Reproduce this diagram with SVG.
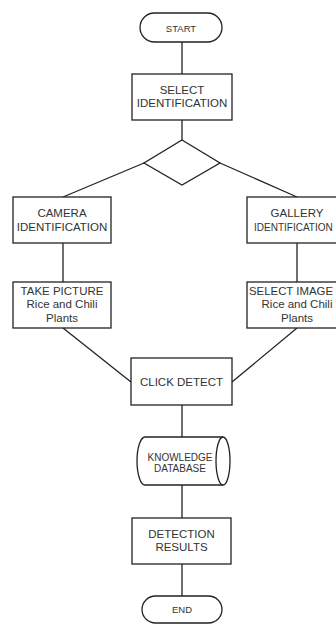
<svg xmlns="http://www.w3.org/2000/svg" width="336" height="626" viewBox="0 0 336 626">
<style>
.s{fill:#fff;stroke:#222;stroke-width:1.3}
.c{fill:none;stroke:#222;stroke-width:1.3}
text{font-family:"Liberation Sans",Arial,sans-serif;fill:#333;text-anchor:middle}
.t{font-size:11.5px}
.m{font-size:10px}
.e{font-size:9.5px}
.l{text-anchor:start}
</style>
<rect width="336" height="626" fill="#fff"/>
<g id="connectors">
<line class="c" x1="182" y1="42" x2="182" y2="74"/>
<line class="c" x1="182" y1="120" x2="182" y2="140"/>
<line class="c" x1="144" y1="163" x2="63" y2="197"/>
<line class="c" x1="220" y1="163" x2="297" y2="197"/>
<line class="c" x1="63" y1="243" x2="63" y2="282"/>
<line class="c" x1="297" y1="243" x2="297" y2="282"/>
<line class="c" x1="63" y1="328" x2="131" y2="382"/>
<line class="c" x1="297" y1="328" x2="232" y2="382"/>
<line class="c" x1="182" y1="405" x2="182" y2="437"/>
<line class="c" x1="182" y1="485" x2="182" y2="518"/>
<line class="c" x1="182" y1="564" x2="182" y2="596"/>
</g>
<g id="start">
<rect class="s" x="140" y="13" width="82" height="29" rx="14.5"/>
<text class="e" x="181" y="31.5">START</text>
</g>
<g id="select-identification">
<rect class="s" x="132" y="74" width="100" height="46"/>
<text class="t" x="182" y="94">SELECT</text>
<text class="t" x="182" y="107">IDENTIFICATION</text>
</g>
<g id="decision">
<polygon class="s" points="182,140 220,163 182,185 144,163"/>
</g>
<g id="camera-identification">
<rect class="s" x="13" y="197" width="98" height="46"/>
<text class="t" x="62" y="217">CAMERA</text>
<text class="t" x="62" y="231">IDENTIFICATION</text>
</g>
<g id="gallery-identification">
<rect class="s" x="247" y="197" width="100" height="46"/>
<text class="t" x="297" y="217">GALLERY</text>
<text class="m l" x="254" y="231">IDENTIFICATION</text>
</g>
<g id="take-picture">
<rect class="s" x="13" y="282" width="98" height="46"/>
<text class="t" x="62" y="294.5">TAKE PICTURE</text>
<text class="t" x="62" y="308">Rice and Chili</text>
<text class="t" x="62" y="321.5">Plants</text>
</g>
<g id="select-image">
<rect class="s" x="247" y="282" width="100" height="46"/>
<text class="t l" x="249" y="294.5" textLength="84" lengthAdjust="spacingAndGlyphs">SELECT IMAGE</text>
<text class="t" x="297" y="308">Rice and Chili</text>
<text class="t" x="297" y="321.5">Plants</text>
</g>
<g id="click-detect">
<rect class="s" x="131" y="358" width="101" height="47"/>
<text class="t" x="181.5" y="386">CLICK DETECT</text>
</g>
<g id="knowledge-database">
<path class="s" d="M145 437 L223 437 A7 24 0 0 1 223 485 L145 485 A8 24 0 0 1 145 437 Z"/>
<path class="c" d="M223 437 A7 24 0 0 0 223 485"/>
<text class="m" x="180" y="460.5">KNOWLEDGE</text>
<text class="m" x="180" y="471.5">DATABASE</text>
</g>
<g id="detection-results">
<rect class="s" x="132" y="518" width="99" height="46"/>
<text class="t" x="181.5" y="537.5">DETECTION</text>
<text class="t" x="181.5" y="551">RESULTS</text>
</g>
<g id="end">
<rect class="s" x="142" y="596" width="80" height="27" rx="13.5"/>
<text class="e" x="182" y="613">END</text>
</g>
</svg>
